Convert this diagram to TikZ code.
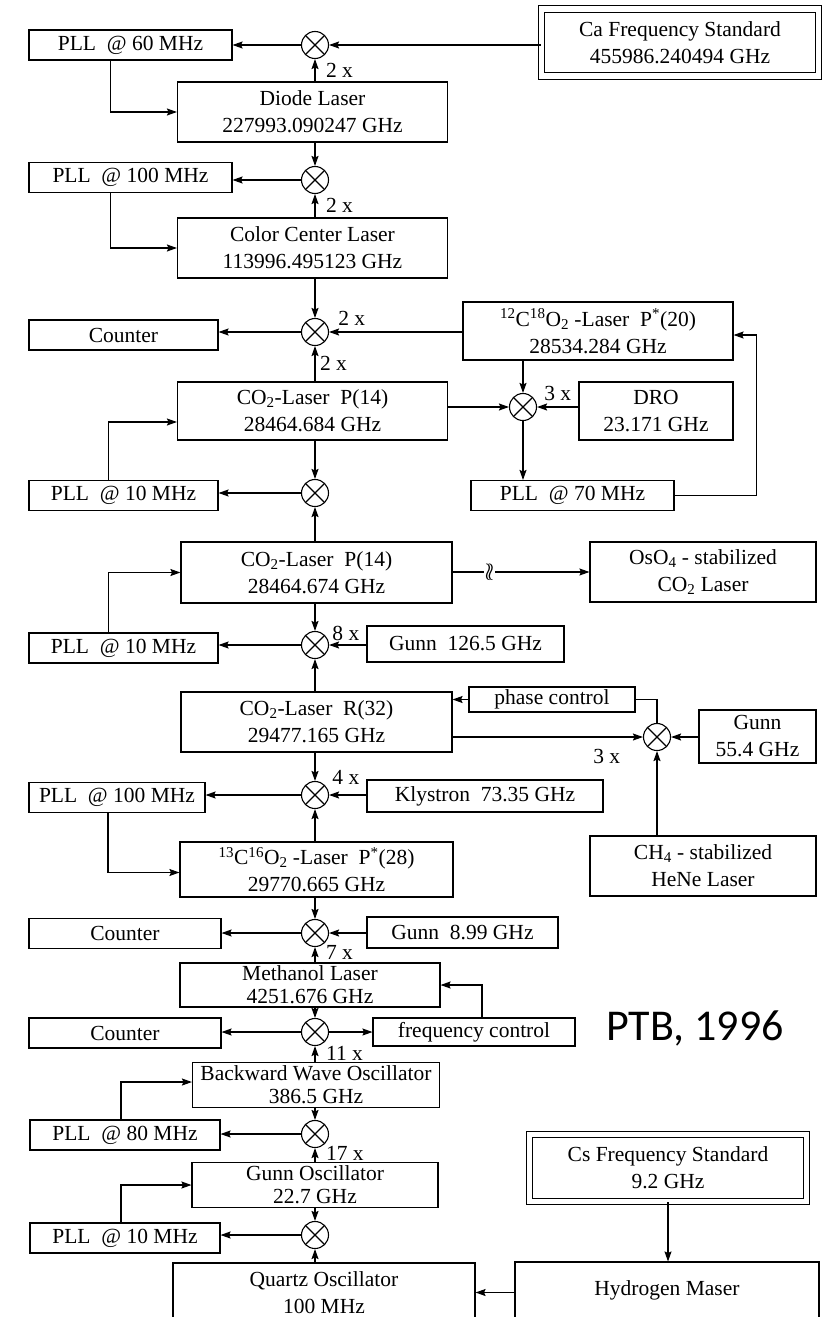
\documentclass[tikz,border=0pt]{standalone}
\usepackage{fontspec}
\setmainfont{Liberation Serif}
\newfontfamily\ptbfont{Carlito}
\usepackage{tikz}
\usetikzlibrary{arrows.meta, positioning}

\begin{document}
\begin{tikzpicture}[
    x=1pt, y=-1pt, line width=1.1pt,
    font=\fontsize{21.5}{27}\selectfont,
    block/.style={rectangle, draw, align=center, inner sep=1pt},
    pll/.style={block, minimum height=30pt},
    laser/.style={block, minimum width=270pt, minimum height=60pt},
    tight/.style={font=\fontsize{21.5}{23}\selectfont},
    stdbox/.style={block, double, double distance=5.5pt, minimum width=277pt, minimum height=67pt},
    mixer/.style={circle, draw, minimum size=27pt, inner sep=0pt,
        path picture={\draw (path picture bounding box.north west) -- (path picture bounding box.south east)
                            (path picture bounding box.north east) -- (path picture bounding box.south west);}},
    arr/.style={-{Stealth[length=10pt, width=7pt, inset=1.5pt]}},
    lbl/.style={inner sep=0.5pt}
]
\fill[white] (0,0) rectangle (831,1317);
\useasboundingbox (0,0) rectangle (831,1317);

% Ca standard down to the color center laser
\node[pll, minimum width=203pt] (pll60) at (130.5,45) {PLL\enskip@ 60 MHz};
\node[mixer] (m1) at (315,45) {};
\node[stdbox] (ca) at (680,42.5) {Ca Frequency Standard\\455986.240494 GHz};
\node[laser] (diode) at (312.5,112) {Diode Laser\\227993.090247 GHz};
\node[pll, minimum width=203pt] (pll100) at (130.5,177.5) {PLL\enskip@ 100 MHz};
\node[mixer] (m2) at (315,180) {};
\node[laser] (cc) at (312.5,248) {Color Center Laser\\113996.495123 GHz};

% CO2 lasers
\node[pll, minimum width=189pt] (cnt1) at (123.5,335) {Counter};
\node[mixer] (m3) at (315,332) {};
\node[laser, minimum height=58pt] (iso18) at (598,331) {\textsuperscript{12}C\textsuperscript{18}O\textsubscript{2} -Laser\enskip P\textsuperscript{*}(20)\\28534.284 GHz};
\node[laser, minimum height=58pt] (co2a) at (312.5,411) {CO\textsubscript{2}-Laser\enskip P(14)\\28464.684 GHz};
\node[mixer] (m4) at (523,407) {};
\node[block, minimum width=154pt, minimum height=58pt] (dro) at (656,411) {DRO\\23.171 GHz};
\node[pll, minimum width=189pt] (pll10a) at (123.5,495.5) {PLL\enskip@ 10 MHz};
\node[mixer] (m5) at (315,493) {};
\node[pll, minimum width=203pt] (pll70) at (572.5,495.5) {PLL\enskip@ 70 MHz};
\node[laser, minimum width=271pt, minimum height=61pt] (co2b) at (316.5,572.5) {CO\textsubscript{2}-Laser\enskip P(14)\\28464.674 GHz};
\node[block, minimum width=226pt, minimum height=60pt] (oso4) at (703,572) {OsO\textsubscript{4} - stabilized\\CO\textsubscript{2} Laser};
\node[pll, minimum width=189pt] (pll10b) at (123.5,648) {PLL\enskip@ 10 MHz};
\node[mixer] (m6) at (315,645) {};
\node[block, minimum width=197pt, minimum height=36pt] (gunna) at (465.5,644) {Gunn\enskip 126.5 GHz};
\node[laser, minimum width=271pt] (co2r) at (316.5,722) {CO\textsubscript{2}-Laser\enskip R(32)\\29477.165 GHz};
\node[block, minimum width=166pt, minimum height=25pt] (phase) at (552,699.5) {phase control};
\node[mixer] (m7) at (657,737) {};
\node[block, minimum width=117pt, minimum height=53pt] (gunnb) at (757.5,736.5) {Gunn\\55.4 GHz};
\node[block, minimum width=226pt, minimum height=60pt] (ch4) at (703,866) {CH\textsubscript{4} - stabilized\\HeNe Laser};
\node[pll, minimum width=176pt] (pll100b) at (117,797.5) {PLL\enskip@ 100 MHz};
\node[mixer] (m8) at (315,795) {};
\node[block, minimum width=236pt, minimum height=32pt] (klys) at (485,796) {Klystron\enskip 73.35 GHz};
\node[laser, minimum width=273pt, minimum height=55pt] (iso13) at (316.5,869.5) {\textsuperscript{13}C\textsuperscript{16}O\textsubscript{2} -Laser\enskip P\textsuperscript{*}(28)\\29770.665 GHz};

% far infrared and microwave chain
\node[pll, minimum width=192pt] (cnt2) at (125,933.5) {Counter};
\node[mixer] (m9) at (315,933) {};
\node[block, minimum width=191pt, minimum height=31pt] (gunnc) at (462.5,932.5) {Gunn\enskip 8.99 GHz};
\node[block, tight, minimum width=260pt, minimum height=44pt] (meth) at (310,985) {Methanol Laser\\4251.676 GHz};
\node[pll, minimum width=192pt] (cnt3) at (125,1033) {Counter};
\node[mixer] (m10) at (315,1032) {};
\node[block, minimum width=202pt, minimum height=28pt] (freq) at (474,1032) {frequency control};
\node[block, tight, minimum width=247pt, minimum height=45pt] (bwo) at (316,1085) {Backward Wave Oscillator\\386.5 GHz};
\node[pll, minimum width=190pt] (pll80) at (125,1135) {PLL\enskip@ 80 MHz};
\node[mixer] (m11) at (315,1134) {};
\node[block, tight, minimum width=246pt, minimum height=45pt] (gosc) at (315,1185) {Gunn Oscillator\\22.7 GHz};
\node[pll, minimum width=190pt] (pll10c) at (125,1238) {PLL\enskip@ 10 MHz};
\node[mixer] (m12) at (315,1235) {};
\node[block, minimum width=302pt, minimum height=59pt] (quartz) at (324,1292.5) {Quartz Oscillator\\100 MHz};
\node[stdbox] (cs) at (668,1168) {Cs Frequency Standard\\9.2 GHz};
\node[block, minimum width=304pt, minimum height=56pt] (maser) at (667,1290) {Hydrogen Maser};
\node[anchor=base, font=\ptbfont\fontsize{44}{50}\selectfont] (ptb) at (695,1040) {PTB, 1996};

% connections
\draw[arr] (ca.west |- m1) -- (m1.east);
\draw[arr] (m1.west) -- (pll60.east |- m1);
\draw[arr] (diode.north -| m1) -- node[lbl, right=10pt] {2 x} (m1.south);
\draw[arr] ([xshift=-20pt]pll60.south) |- (diode.west);
\draw[arr] (diode.south -| m2) -- (m2.north);
\draw[arr] (m2.west) -- (pll100.east |- m2);
\draw[arr] (cc.north -| m2) -- node[lbl, right=10pt] {2 x} (m2.south);
\draw[arr] ([xshift=-20pt]pll100.south) |- (cc.west);
\draw[arr] (cc.south -| m3) -- (m3.north);
\draw[arr] (m3.west) -- (cnt1.east |- m3);
\draw[arr] (iso18.west |- m3) -- node[lbl, pos=0.83, above=5pt] {2 x} (m3.east);
\draw[arr] (co2a.north -| m3) -- node[lbl, right=4pt] {2 x} (m3.south);
\draw[arr] (co2a.east |- m4) -- (m4.west);
\draw[arr] (iso18.south -| m4) -- (m4.north);
\draw[arr] (dro.west |- m4) -- node[lbl, above=5pt] {3 x} (m4.east);
\draw[arr] (m4.south) -- (pll70.north -| m4);
\draw[arr] (pll70.east) -- ++(82,0) |- ([yshift=-4pt]iso18.east);
\draw[arr] (co2a.south -| m5) -- (m5.north);
\draw[arr] (m5.west) -- (pll10a.east |- m5);
\draw[arr] ([xshift=-15pt]pll10a.north) |- ([yshift=-11pt]co2a.west);
\draw[arr] (co2b.north -| m5) -- (m5.south);
\draw[arr] (co2b.east |- oso4) -- node[pos=0.27, fill=white, inner sep=0.5pt, font=\fontsize{30}{30}\selectfont] {$\wr\!\wr$} (oso4.west);
\draw[arr] (co2b.south -| m6) -- (m6.north);
\draw[arr] (gunna.west |- m6) -- node[lbl, pos=0.55, above=3pt] {8 x} (m6.east);
\draw[arr] (m6.west) -- (pll10b.east |- m6);
\draw[arr] ([xshift=-15pt]pll10b.north) |- (co2b.west);
\draw[arr] (co2r.north -| m6) -- (m6.south);
\draw[arr] (co2r.east |- m7) -- node[lbl, pos=0.81, below=11pt] {3 x} (m7.west);
\draw (m7.north) |- (phase.east);
\draw[arr] (phase.west) -- (co2r.east |- phase);
\draw[arr] (gunnb.west |- m7) -- (m7.east);
\draw[arr] (ch4.north -| m7) -- (m7.south);
\draw[arr] (co2r.south -| m8) -- (m8.north);
\draw[arr] (m8.west) -- (pll100b.east |- m8);
\draw[arr] (klys.west |- m8) -- node[lbl, pos=0.55, above=9pt] {4 x} (m8.east);
\draw[arr] (iso13.north -| m8) -- (m8.south);
\draw[arr] ([xshift=-9pt]pll100b.south) |- ([yshift=-3pt]iso13.west);
\draw[arr] (iso13.south -| m9) -- (m9.north);
\draw[arr] (m9.west) -- (cnt2.east |- m9);
\draw[arr] (gunnc.west |- m9) -- (m9.east);
\draw[arr] (meth.north -| m9) -- node[lbl, right=10pt, yshift=2pt] {7 x} (m9.south);
\draw[arr] ([xshift=8pt]freq.north) |- (meth.east);
\draw[arr] (meth.south -| m10) -- (m10.north);
\draw[arr] (m10.west) -- (cnt3.east |- m10);
\draw[arr] (m10.east) -- (freq.west |- m10);
\draw[arr] (bwo.north -| m10) -- node[lbl, right=10pt, yshift=1pt] {11 x} (m10.south);
\draw[arr] ([xshift=-4pt]pll80.north) |- ([yshift=3pt]bwo.west);
\draw[arr] (bwo.south -| m11) -- (m11.north);
\draw[arr] (m11.west) -- (pll80.east |- m11);
\draw[arr] (gosc.north -| m11) -- node[lbl, right=10pt, yshift=2pt] {17 x} (m11.south);
\draw[arr] ([xshift=-4pt]pll10c.north) |- (gosc.west);
\draw[arr] (gosc.south -| m12) -- (m12.north);
\draw[arr] (m12.west) -- (pll10c.east |- m12);
\draw[arr] (quartz.north -| m12) -- (m12.south);
\draw[arr] (cs.south) -- (cs.south |- maser.north);
\draw[arr] (maser.west |- quartz) -- (quartz.east);
\end{tikzpicture}
\end{document}
